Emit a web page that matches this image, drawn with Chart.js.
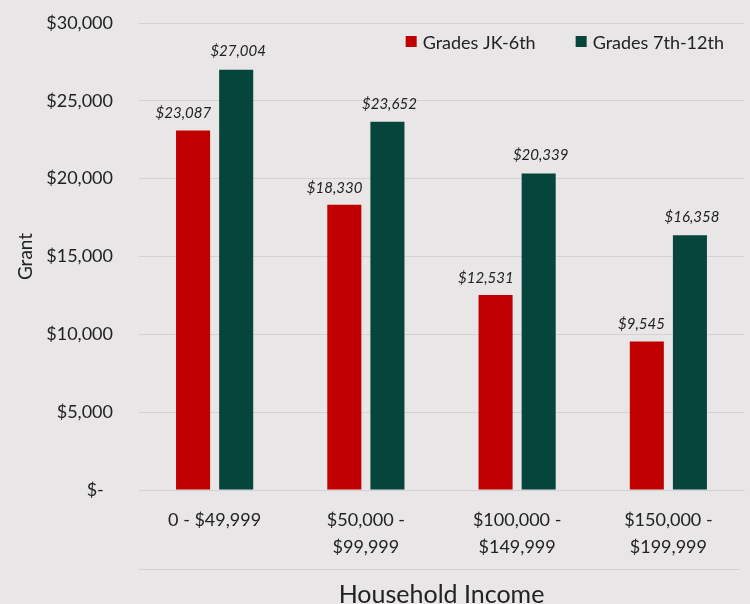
<!DOCTYPE html>
<html>
<head>
<meta charset="utf-8">
<script src="https://cdn.jsdelivr.net/npm/chart.js@4/dist/chart.umd.min.js"></script>
<style>
html,body{margin:0;padding:0;background:#e8e6e7;}
#wrap{width:750px;height:604px;position:relative;}
</style>
</head>
<body>
<div id="wrap"><canvas id="c" width="750" height="604"></canvas></div>
<script>
const categories = [["0 - $49,999"], ["$50,000 -", "$99,999"], ["$100,000 -", "$149,999"], ["$150,000 -", "$199,999"]];
const seriesNames = ["Grades JK-6th", "Grades 7th-12th"];
const gradesJK6 = [23087, 18330, 12531, 9545];
const grades7to12 = [27004, 23652, 20339, 16358];
const yTicks = [0, 5000, 10000, 15000, 20000, 25000, 30000];

const FONT = "Lato, 'Open Sans', sans-serif";
const TEXT = '#222222';

const dataLabels = {
  id: 'dataLabels',
  afterDatasetsDraw(chart) {
    const ctx = chart.ctx;
    ctx.save();
    ctx.font = "italic 15px " + FONT;
    ctx.fillStyle = TEXT;
    ctx.textBaseline = 'middle';
    chart.data.datasets.forEach((ds, di) => {
      const meta = chart.getDatasetMeta(di);
      meta.data.forEach((bar, i) => {
        const txt = '$' + ds.data[i].toLocaleString('en-US');
        if (di === 0) {
          ctx.textAlign = 'right';
          ctx.fillText(txt, bar.x + bar.width / 2 + 1, bar.y - 17);
        } else {
          ctx.textAlign = 'center';
          ctx.fillText(txt, bar.x + 2, bar.y - 18);
        }
      });
    });
    ctx.restore();
  }
};

const insideLegend = {
  id: 'insideLegend',
  afterDraw(chart) {
    const ctx = chart.ctx;
    const ds = chart.data.datasets;
    ctx.save();
    ctx.font = "18px " + FONT;
    ctx.textBaseline = 'middle';
    ctx.textAlign = 'left';
    const y = chart.chartArea.top + 19;
    let x = chart.chartArea.right - 20;
    for (let i = ds.length - 1; i >= 0; i--) {
      const w = ctx.measureText(ds[i].label).width;
      const tx = x - w;
      ctx.fillStyle = TEXT;
      ctx.fillText(ds[i].label, tx, y + 1);
      ctx.fillStyle = ds[i].backgroundColor;
      ctx.fillRect(tx - 17, y - 6, 11, 11);
      x = tx - 17 - 40;
    }
    ctx.restore();
  }
};

const bottomRule = {
  id: 'bottomRule',
  afterDraw(chart) {
    const ctx = chart.ctx;
    const xs = chart.scales.x;
    const y = Math.round(xs.top + 79) + 0.5;
    ctx.save();
    ctx.strokeStyle = '#d3d1d2';
    ctx.lineWidth = 1;
    ctx.beginPath();
    ctx.moveTo(chart.chartArea.left, y);
    ctx.lineTo(chart.chartArea.right - 4, y);
    ctx.stroke();
    ctx.restore();
  }
};

new Chart(document.getElementById('c'), {
  type: 'bar',
  data: {
    labels: categories,
    datasets: [
      { label: seriesNames[0], data: gradesJK6, backgroundColor: '#c00000', borderWidth: 0 },
      { label: seriesNames[1], data: grades7to12, backgroundColor: '#06453b', borderWidth: 0 }
    ]
  },
  options: {
    responsive: false,
    animation: false,
    devicePixelRatio: 1,
    categoryPercentage: 0.57,
    barPercentage: 0.79,
    layout: { padding: { left: 10, right: 6, top: 23, bottom: 0 } },
    plugins: {
      legend: { display: false },
      tooltip: { enabled: false }
    },
    scales: {
      x: {
        grid: { display: false, drawTicks: false },
        border: { display: true, color: '#d3d1d2' },
        ticks: { color: TEXT, font: { family: FONT, size: 18, lineHeight: 1.5 }, padding: 17, maxRotation: 0 },
        title: { display: true, text: 'Household Income', color: TEXT, font: { family: FONT, size: 25, lineHeight: 1 }, padding: { top: 0, bottom: -3 } },
        afterFit(scale) { scale.height = 114; }
      },
      y: {
        min: 0, max: 30000,
        afterBuildTicks(scale) { scale.ticks = yTicks.map(v => ({ value: v })); },
        grid: { color: '#d3d1d2', drawTicks: false },
        border: { display: false },
        ticks: {
          color: TEXT,
          font: { family: FONT, size: 18 },
          padding: 26,
          callback: v => v === 0 ? '$-  ' : '$' + v.toLocaleString('en-US')
        },
        title: { display: true, text: 'Grant', color: TEXT, font: { family: FONT, size: 19 }, padding: { top: 4, bottom: 4 } },
        afterFit(scale) { scale.width = 129; scale.paddingTop = 0; scale.paddingBottom = 0; }
      }
    }
  },
  plugins: [dataLabels, insideLegend, bottomRule]
});
</script>
</body>
</html>
